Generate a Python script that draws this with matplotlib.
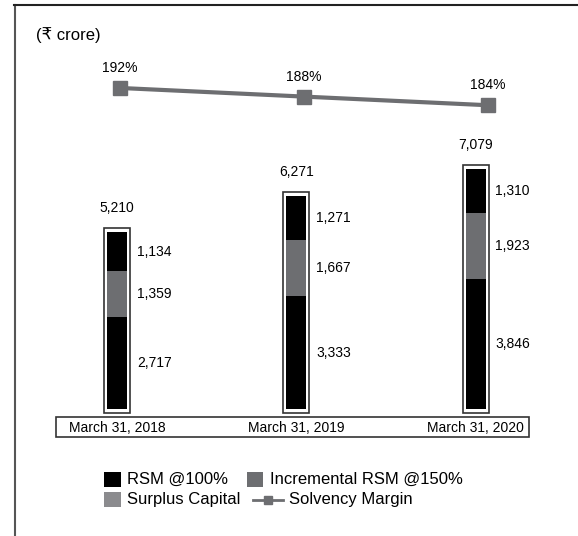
import matplotlib
matplotlib.use('Agg')
import matplotlib.pyplot as plt
from matplotlib.patches import Rectangle
from matplotlib.lines import Line2D
from matplotlib.transforms import blended_transform_factory

# данные
dates = ['March 31, 2018', 'March 31, 2019', 'March 31, 2020']
rsm_100 = [2717, 3333, 3846]
incremental_rsm_150 = [1359, 1667, 1923]
surplus_capital = [1134, 1271, 1310]
totals = [5210, 6271, 7079]
solvency_margin = [192, 188, 184]

plt.rcParams['font.family'] = ['Liberation Sans', 'DejaVu Sans']

W, H = 578, 536
fig = plt.figure(figsize=(W / 100, H / 100), dpi=100)


def fx(x):
    return x / W


def fy(y):
    return 1 - y / H


black = '#000000'
dark_grey = '#6d6e71'
light_grey = '#8b8b8e'
edge = '#333333'

# рамка слева и сверху
fig.add_artist(Line2D([fx(15), fx(15)], [fy(5), fy(536)], color='#555555', lw=1.5))
fig.add_artist(Line2D([fx(14), fx(578)], [fy(5), fy(5)], color='#222222', lw=1.5))

fig.text(fx(36), fy(35), '(₹ crore)', fontsize=12, va='center', ha='left')

# === столбцы ===
px_per_cat = 179.25
px_per_unit = 0.0339
ax = fig.add_axes([fx(56), fy(409), fx(529) - fx(56), fy(160) - fy(409)])
ax.set_xlim(-(117 - 56) / px_per_cat, 2 + (529 - 475.5) / px_per_cat)
ax.set_ylim(0, 249 / px_per_unit)
ax.axis('off')

x = list(range(len(dates)))
bw = 20 / px_per_cat
ax.bar(x, rsm_100, width=bw, color=black)
ax.bar(x, incremental_rsm_150, width=bw, bottom=rsm_100, color=dark_grey)
mid = [a + b for a, b in zip(rsm_100, incremental_rsm_150)]
ax.bar(x, surplus_capital, width=bw, bottom=mid, color=black)

pad_x = 3 / px_per_cat
pad_y = 4 / px_per_unit
for i, t in enumerate(totals):
    ax.add_patch(Rectangle((i - bw / 2 - pad_x, -pad_y), bw + 2 * pad_x, t + 2 * pad_y,
                           fill=False, edgecolor=edge, lw=1.2, clip_on=False))
    ax.annotate(f'{t:,}', (i, t), xytext=(0, 17.5), textcoords='offset points',
                ha='center', va='center', fontsize=10)
    bottoms = [0, rsm_100[i], mid[i]]
    vals = [rsm_100[i], incremental_rsm_150[i], surplus_capital[i]]
    for b, v in zip(bottoms, vals):
        ax.annotate(f'{v:,}', (i, b + v / 2), xytext=(14.4, 0), textcoords='offset points',
                    ha='left', va='center', fontsize=10)

# подписи дат в рамке
fig.add_artist(Rectangle((fx(56), fy(437)), fx(529) - fx(56), fy(417) - fy(437),
                         transform=fig.transFigure, fill=False, edgecolor=edge, lw=1.2))
tr = blended_transform_factory(ax.transData, fig.transFigure)
for i, d in enumerate(dates):
    ax.text(i, fy(428), d, transform=tr, ha='center', va='center', fontsize=10)

# === линия Solvency Margin ===
ax2 = fig.add_axes([fx(56), fy(115), fx(529) - fx(56), fy(80) - fy(115)])
ax2.set_xlim(-(120 - 56) / 184, 2 + (529 - 488) / 184)
ax2.set_ylim(188 - 18.4 / 2.16, 188 + 16.6 / 2.16)
ax2.axis('off')
ax2.plot(x, solvency_margin, color=dark_grey, lw=3, marker='s', markersize=9.5, clip_on=False)
for i, v in enumerate(solvency_margin):
    ax2.annotate(f'{v}%', (i, v), xytext=(0, 14.4), textcoords='offset points',
                 ha='center', va='center', fontsize=10)

# === легенда ===
def square(x0, y0, x1, y1, c):
    fig.add_artist(Rectangle((fx(x0), fy(y1)), fx(x1) - fx(x0), fy(y0) - fy(y1),
                             transform=fig.transFigure, color=c, lw=0))

square(104, 472, 121, 487, black)
fig.text(fx(127), fy(479.5), 'RSM @100%', fontsize=12, va='center')
square(247, 472, 263, 487, dark_grey)
fig.text(fx(270), fy(479.5), 'Incremental RSM @150%', fontsize=12, va='center')
square(104, 492, 121, 507, light_grey)
fig.text(fx(127), fy(499.5), 'Surplus Capital', fontsize=12, va='center')
fig.add_artist(Line2D([fx(253), fx(283)], [fy(499.5), fy(499.5)], color=dark_grey, lw=2))
fig.add_artist(Line2D([fx(268)], [fy(499.5)], color=dark_grey, marker='s', markersize=6, lw=0))
fig.text(fx(289), fy(499.5), 'Solvency Margin', fontsize=12, va='center')

fig.savefig('out.png', dpi=100)
